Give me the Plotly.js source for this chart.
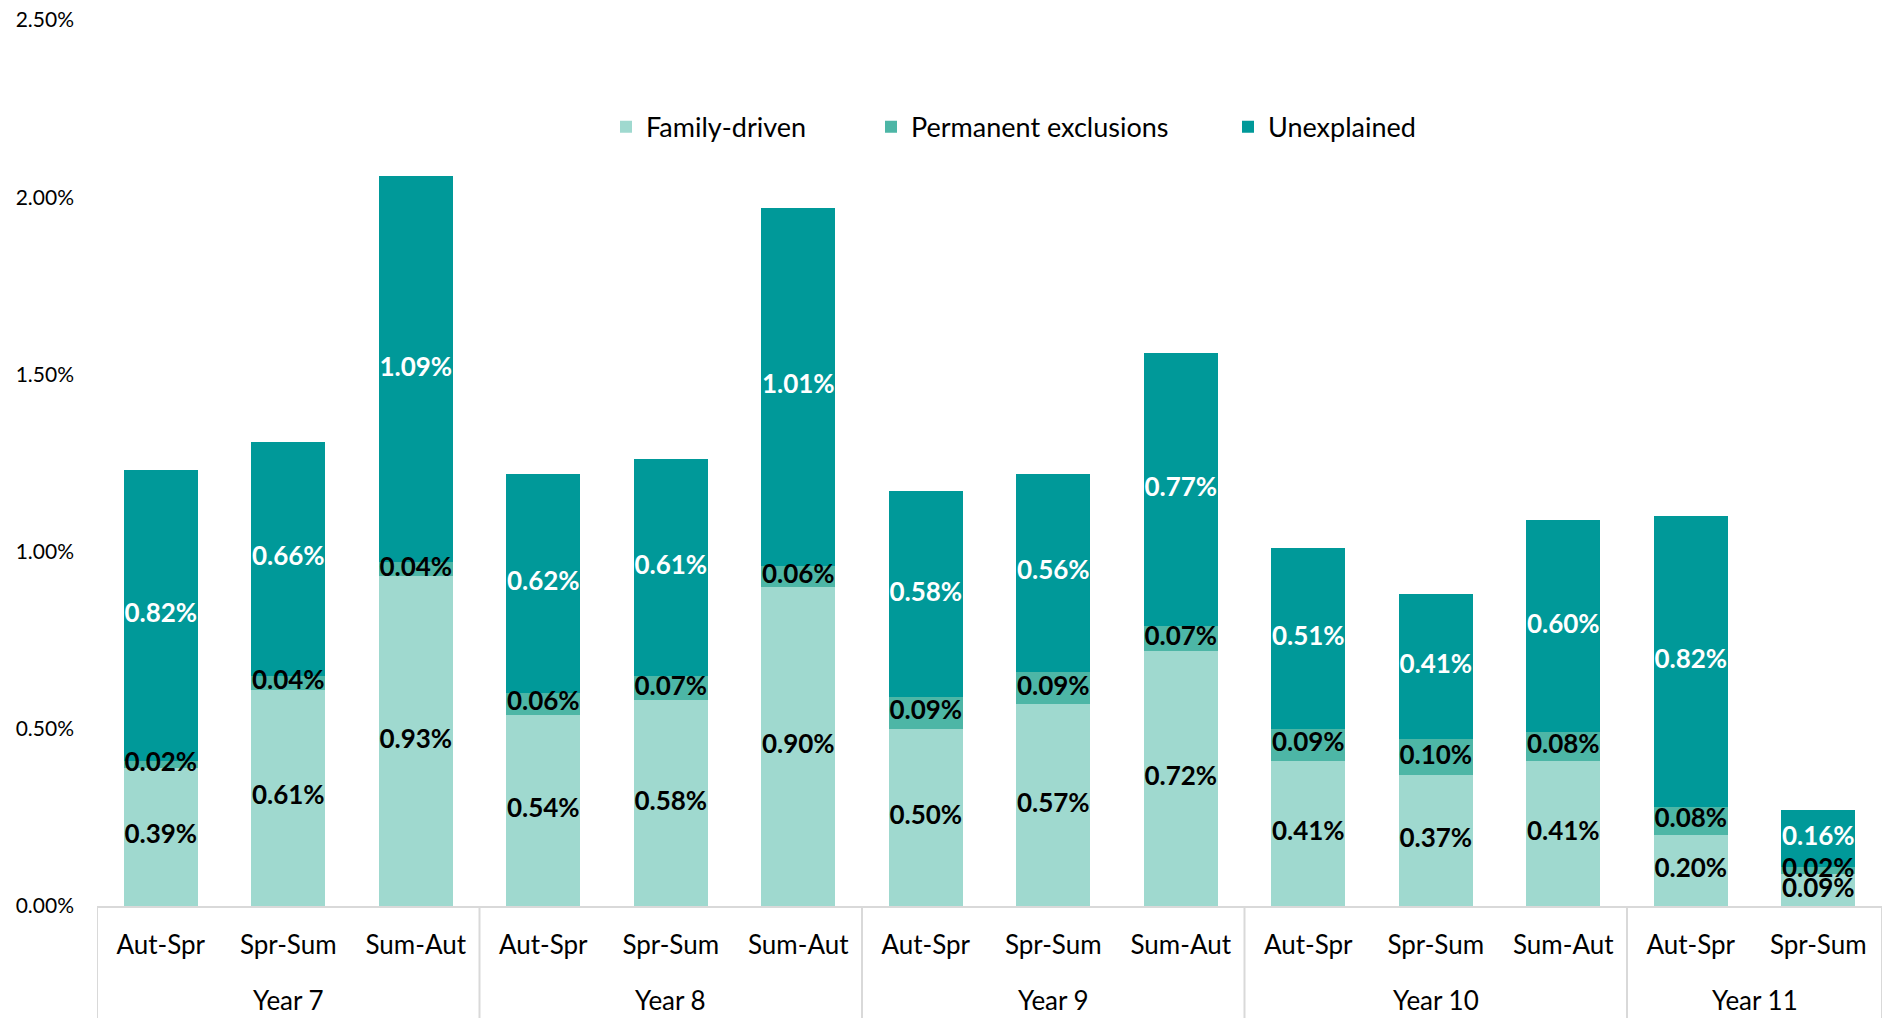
<!DOCTYPE html>
<html>
<head>
<meta charset="utf-8">
<script src="https://cdn.plot.ly/plotly-3.0.1.min.js"></script>
<style>html,body{margin:0;padding:0;background:#fff}#chart{width:1892px;height:1018px}</style>
</head>
<body>
<div id="chart"></div>
<script>
const years = ["Year 7","Year 7","Year 7","Year 8","Year 8","Year 8","Year 9","Year 9","Year 9","Year 10","Year 10","Year 10","Year 11","Year 11"];
const periods = ["Aut-Spr","Spr-Sum","Sum-Aut","Aut-Spr","Spr-Sum","Sum-Aut","Aut-Spr","Spr-Sum","Sum-Aut","Aut-Spr","Spr-Sum","Sum-Aut","Aut-Spr","Spr-Sum"];
const familyDriven = [0.39,0.61,0.93,0.54,0.58,0.90,0.50,0.57,0.72,0.41,0.37,0.41,0.20,0.09];
const permanentExclusions = [0.02,0.04,0.04,0.06,0.07,0.06,0.09,0.09,0.07,0.09,0.10,0.08,0.08,0.02];
const unexplained = [0.82,0.66,1.09,0.62,0.61,1.01,0.58,0.56,0.77,0.51,0.41,0.60,0.82,0.16];
const yTicks = [0,0.5,1,1.5,2,2.5];
const yTickText = yTicks.map(v => v.toFixed(2) + '%');

const FONT = "Lato, 'Open Sans', sans-serif";
const cats = years.map((y,i) => y + ' | ' + periods[i]);

const series = [
  {name:'Family-driven', vals:familyDriven, color:'#9fd9cf', text:'#000000', legend:'legend'},
  {name:'Permanent exclusions', vals:permanentExclusions, color:'#4db6a6', text:'#000000', legend:'legend2'},
  {name:'Unexplained', vals:unexplained, color:'#009999', text:'#ffffff', legend:'legend3'}
];

const data = [];
// bars
series.forEach(s => {
  data.push({
    type:'bar', name:s.name, x:cats, y:s.vals,
    marker:{color:s.color, line:{width:0}},
    hoverinfo:'skip', showlegend:true, legend:s.legend
  });
});
// labels on top of all bars, centred in each segment
let base = cats.map(() => 0);
series.forEach(s => {
  const mids = s.vals.map((v,i) => base[i] + v/2);
  data.push({
    type:'scatter', mode:'text', x:cats, y:mids,
    text:s.vals.map(v => v.toFixed(2) + '%'),
    textposition:'middle center',
    textfont:{family:FONT, size:26, color:s.text, weight:'bold'},
    hoverinfo:'skip', showlegend:false, cliponaxis:false
  });
  base = base.map((b,i) => b + s.vals[i]);
});

// year group labels and dividers
const groups = [];
years.forEach((y,i) => {
  const g = groups.find(g => g.name === y);
  if (g) g.last = i; else groups.push({name:y, first:i, last:i});
});
const annotations = groups.map(g => ({
  x:(g.first + g.last)/2, xref:'x', y:-0.106, yref:'paper',
  text:g.name, showarrow:false, xanchor:'center', yanchor:'middle',
  font:{family:FONT, size:26, color:'#000'}
}));
const bounds = groups.map(g => g.first - 0.5).concat([groups[groups.length-1].last + 0.5]);
const shapes = bounds.map(b => ({
  type:'line', xref:'x', yref:'paper', x0:b, x1:b, y0:0, y1:-0.2,
  line:{color:'#d9d9d9', width:2}
}));

const legBase = {orientation:'h', yanchor:'middle', y:0.879, xanchor:'left', font:{family:FONT,size:27,color:'#000'}, bgcolor:'rgba(0,0,0,0)'};
const layout = {
  width:1892, height:1018,
  margin:{l:97, r:10, t:20, b:112},
  paper_bgcolor:'#fff', plot_bgcolor:'#fff',
  barmode:'stack', bargap:0.42,
  showlegend:true,
  font:{family:FONT, color:'#000'},
  legend:Object.assign({}, legBase, {x:(606-97)/1785}),
  legend2:Object.assign({}, legBase, {x:(871-97)/1785}),
  legend3:Object.assign({}, legBase, {x:(1228-97)/1785}),
  annotations:annotations,
  shapes:shapes,
  xaxis:{type:'category', range:[-0.5, cats.length-0.5], tickvals:cats, ticktext:periods,
    showline:true, linecolor:'#d9d9d9', linewidth:2,
    ticklabelstandoff:15,
    tickfont:{family:FONT, size:26, color:'#000'}, ticks:'', showgrid:false},
  yaxis:{range:[0,2.5], tickvals:yTicks, ticktext:yTickText,
    showgrid:false, zeroline:false, showline:false, ticks:'',
    ticklabelstandoff:22,
    tickfont:{family:FONT, size:21, color:'#000'}}
};
Plotly.newPlot('chart', data, layout, {displayModeBar:false, staticPlot:true});
</script>
</body>
</html>
